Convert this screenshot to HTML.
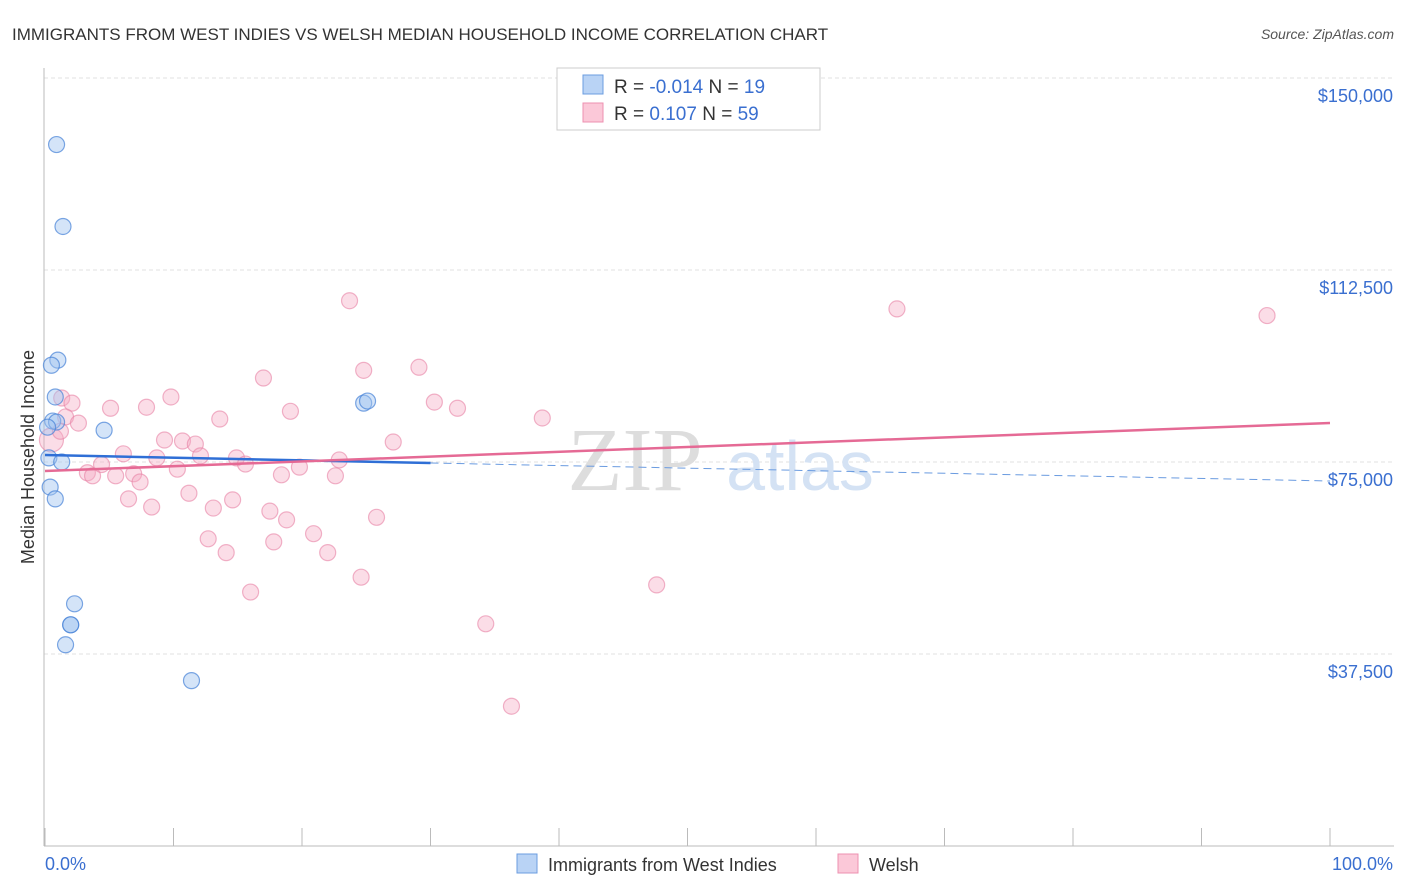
<!DOCTYPE html>
<html><head><meta charset="utf-8"><style>
body{margin:0;background:#fff;font-family:"Liberation Sans",sans-serif}
#c{position:absolute;left:0;top:0}
</style></head><body>
<svg id="c" width="1406" height="892">
<text x="12" y="40" font-size="17" fill="#333">IMMIGRANTS FROM WEST INDIES VS WELSH MEDIAN HOUSEHOLD INCOME CORRELATION CHART</text>
<text x="1394" y="39" font-size="14" fill="#555" font-style="italic" text-anchor="end">Source: ZipAtlas.com</text>
<g id="grid"></g>
<g id="watermark">
<text x="635" y="490" font-size="90" fill="#ddd" font-family="Liberation Serif,serif" text-anchor="middle">ZIP</text>
<text x="800" y="490" font-size="70" fill="#d4e2f4" text-anchor="middle">atlas</text></g>
<line x1="44" y1="68" x2="44" y2="846" stroke="#bbb"/>
<line x1="44" y1="846" x2="1394" y2="846" stroke="#bbb"/>
<g id="xticks"></g>
<g id="ylabels"></g>
<text x="45" y="870" font-size="18" fill="#3a6fd0">0.0%</text>
<text x="1393" y="870" font-size="18" fill="#3a6fd0" text-anchor="end">100.0%</text>
<text transform="translate(34,457) rotate(-90)" font-size="18" fill="#333" text-anchor="middle">Median Household Income</text>
<g id="pts"></g>
<g id="trend"></g>
<g>
<rect x="557" y="68" width="263" height="62" fill="#fff" stroke="#ccc"/>
<rect x="583" y="75" width="20" height="19" fill="#b9d3f5" stroke="#6b9de0"/>
<rect x="583" y="103" width="20" height="19" fill="#fbc8d8" stroke="#ee90b0"/>
<text x="614" y="93" font-size="19" fill="#333">R = <tspan fill="#3a6fd0">-0.014</tspan>   N = <tspan fill="#3a6fd0">19</tspan></text>
<text x="614" y="120" font-size="19" fill="#333">R =   <tspan fill="#3a6fd0">0.107</tspan>   N = <tspan fill="#3a6fd0">59</tspan></text>
</g>
<g>
<rect x="517" y="854" width="20" height="19" fill="#b9d3f5" stroke="#6b9de0"/>
<text x="548" y="871" font-size="18" fill="#333">Immigrants from West Indies</text>
<rect x="838" y="854" width="20" height="19" fill="#fbc8d8" stroke="#ee90b0"/>
<text x="869" y="871" font-size="18" fill="#333">Welsh</text>
</g>
</svg>
<script>
const yTicks=[37500,75000,112500,150000];
const yTickLabels=["$37,500","$75,000","$112,500","$150,000"];
const xTicks=[0,10,20,30,40,50,60,70,80,90,100];
const blueX=[0.9,1.4,1.0,0.5,0.8,0.6,0.9,0.2,4.6,0.3,1.3,0.4,0.8,2.3,2.0,2.0,1.6,11.4,24.8,25.1];
const blueY=[137000,121000,94900,93900,87700,83000,82800,81800,81200,75800,75000,70100,67800,47300,43200,43200,39300,32300,86500,86900];
const pinkX=[0.5,1.3,2.1,1.6,2.6,5.1,7.9,9.8,17.0,23.7,24.8,29.1,19.1,13.6,30.3,32.1,38.7,27.1,9.3,10.7,11.7,6.1,8.7,12.1,14.9,15.6,19.8,22.9,3.3,3.7,4.4,5.5,6.9,7.4,10.3,18.4,22.6,6.5,8.3,11.2,13.1,14.6,17.5,18.8,12.7,14.1,17.8,20.9,22.0,25.8,24.6,16.0,34.3,36.3,47.6,66.3,95.1,1.2];
const pinkY=[79300,87500,86500,83800,82600,85500,85700,87700,91400,106500,92900,93500,84900,83400,86700,85500,83600,78900,79300,79100,78500,76600,75800,76200,75800,74600,74000,75400,72900,72300,74500,72300,72700,71100,73600,72500,72300,67800,66200,68900,66000,67600,65400,63700,60000,57300,59400,61000,57300,64200,52500,49600,43400,27300,51000,104900,103600,81000];
const X=p=>45+p*12.85, Y=v=>462-(v-75000)*192/37500;
const ns="http://www.w3.org/2000/svg";
function mk(t,a,p){const e=document.createElementNS(ns,t);for(const k in a)e.setAttribute(k,a[k]);document.getElementById(p).appendChild(e);return e;}
yTicks.forEach((v,i)=>{
 const l=mk('line',{x1:44,x2:1394,y1:Y(v),y2:Y(v),stroke:'#e2e2e2','stroke-dasharray':'4,3'},'grid');
 
 
 const t=mk('text',{x:1393,y:Y(v)+24,'font-size':18,fill:'#3a6fd0','text-anchor':'end'},'ylabels');
 t.textContent=yTickLabels[i];
 
 
});
xTicks.forEach(p=>{
 const l=mk('line',{x1:X(p),x2:X(p),y1:828,y2:846,stroke:'#bbb'},'xticks');
 
 
});
pinkX.forEach((p,i)=>{
 const c=mk('circle',{cx:X(p),cy:Y(pinkY[i]),r:i==0?12:8,fill:'rgba(246,170,195,0.4)',stroke:'rgba(232,130,165,0.6)','stroke-width':1.2},'pts');
 
 
});
blueX.forEach((p,i)=>{
 const c=mk('circle',{cx:X(p),cy:Y(blueY[i]),r:8,fill:'rgba(160,195,240,0.45)',stroke:'rgba(70,130,215,0.7)','stroke-width':1.2},'pts');
 
 
});
let l=mk('line',{x1:X(0),y1:455,x2:X(30),y2:463,stroke:'#2f6fd6','stroke-width':2.5},'trend');


l=mk('line',{x1:X(30),y1:463,x2:X(100),y2:481,stroke:'#6a9be0','stroke-width':1,'stroke-dasharray':'8,5'},'trend');


l=mk('line',{x1:X(0),y1:471,x2:X(100),y2:423,stroke:'#e56a95','stroke-width':2.5},'trend');


</script>
</body></html>
